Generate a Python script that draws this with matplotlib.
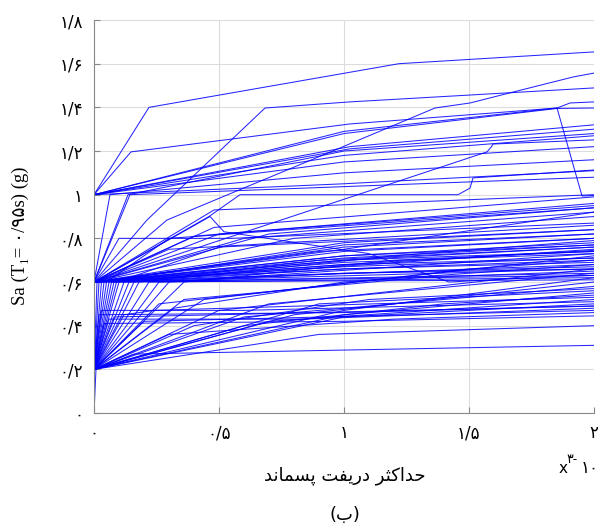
import matplotlib
matplotlib.use("Agg")
import matplotlib.pyplot as plt

# IDA-like curves: (residual drift x1e-3, Sa in g)
low_curves = [
    [(0, 0), (0.008, 0.2), (0.16, 0.27), (2.0, 0.31)],
    [(0, 0), (0, 0.2), (0.9, 0.36), (2.0, 0.40)],
    [(0, 0), (0, 0.2), (0.04, 0.41), (1.0, 0.42), (2.0, 0.445)],
    [(0, 0), (0, 0.2), (0.02, 0.45), (1.0, 0.46), (2.0, 0.49)],
    [(0, 0), (0, 0.2), (0.06, 0.43), (0.84, 0.43), (2.0, 0.48)],
    [(0, 0), (0, 0.2), (1.0, 0.44), (2.0, 0.50)],
    [(0, 0), (0, 0.2), (1.0, 0.45), (2.0, 0.55)],
    [(0, 0), (0, 0.2), (0.8, 0.45), (2.0, 0.60)],
    [(0, 0), (0, 0.2), (1.0, 0.47), (2.0, 0.62)],
    [(0, 0), (0, 0.2), (0.6, 0.44), (2.0, 0.58)],
    [(0, 0), (0, 0.2), (0.7, 0.50), (2.0, 0.64)],
    [(0, 0), (0, 0.2), (0.5, 0.47), (2.0, 0.66)],
    [(0, 0), (0, 0.2), (0.44, 0.52), (1.5, 0.66), (2.0, 0.70)],
    [(0, 0), (0, 0.2), (0.32, 0.48), (1.0, 0.60), (2.0, 0.68)],
    [(0, 0), (0, 0.2), (0.26, 0.50), (2.0, 0.72)],
    [(0, 0), (0, 0.2), (0.12, 0.45), (0.24, 0.47), (2.0, 0.53)],
    [(0, 0), (0, 0.2), (0.2, 0.42), (2.0, 0.47)],
    [(0, 0), (0, 0.2), (0.3, 0.36), (1.2, 0.43), (2.0, 0.46)],
    [(0, 0), (0, 0.2), (0.6, 0.40), (1.4, 0.50), (2.0, 0.54)],
    [(0, 0), (0, 0.2), (0.4, 0.40), (1.1, 0.52), (2.0, 0.57)],
    [(0, 0), (0, 0.2), (0.7, 0.42), (2.0, 0.52)],
    [(0, 0), (0, 0.2), (0.03, 0.47), (0.6, 0.47), (2.0, 0.51)],
    [(0, 0), (0, 0.2), (0.08, 0.44), (0.5, 0.45), (2.0, 0.49)],
    [(0, 0), (0, 0.2), (0.36, 0.52), (1.3, 0.62), (2.0, 0.65)],
    [(0, 0), (0, 0.2), (0.9, 0.50), (2.0, 0.56)],
]

steep_curves = [
    [(0, 0), (0, 0.2), (0.02, 0.6), (1.0, 0.72), (2.0, 0.77)],
    [(0, 0), (0, 0.2), (0.04, 0.6), (1.0, 0.77), (2.0, 0.82)],
    [(0, 0), (0, 0.2), (0.06, 0.6), (2.0, 0.75)],
    [(0, 0), (0, 0.2), (0.08, 0.6), (2.0, 0.68)],
    [(0, 0), (0, 0.2), (0.1, 0.6), (2.0, 0.66)],
    [(0, 0), (0, 0.2), (0.14, 0.6), (2.0, 0.64)],
    [(0, 0), (0, 0.2), (0.22, 0.6), (2.0, 0.62)],
    [(0, 0), (0, 0.2), (0.3, 0.6), (2.0, 0.73)],
    [(0, 0), (0, 0.2), (0.18, 0.6), (1.2, 0.72), (2.0, 0.79)],
    [(0, 0), (0, 0.2), (0.05, 0.6), (0.3, 0.8), (2.0, 0.94)],
    [(0, 0), (0, 0.2), (0.012, 0.6), (0.9, 0.74), (2.0, 0.80)],
    [(0, 0), (0, 0.2), (0.03, 0.6), (1.0, 0.70), (2.0, 0.74)],
    [(0, 0), (0, 0.2), (0.07, 0.6), (1.0, 0.68), (2.0, 0.71)],
    [(0, 0), (0, 0.2), (0.12, 0.6), (1.0, 0.66), (2.0, 0.69)],
    [(0, 0), (0, 0.2), (0.16, 0.6), (0.9, 0.70), (2.0, 0.76)],
    [(0, 0), (0, 0.2), (0.26, 0.6), (1.0, 0.64), (2.0, 0.66)],
    [(0, 0), (0, 0.2), (0.36, 0.6), (1.2, 0.70), (2.0, 0.74)],
    [(0, 0), (0, 0.2), (0.09, 0.6), (0.5, 0.76), (2.0, 0.84)],
]

mid_curves = [
    [(0, 0), (0, 0.2), (0, 0.6), (2.0, 0.61)],
    [(0, 0), (0, 0.2), (0, 0.6), (2.0, 0.63)],
    [(0, 0), (0, 0.2), (0, 0.6), (1.0, 0.64), (2.0, 0.67)],
    [(0, 0), (0, 0.2), (0, 0.6), (1.0, 0.66), (2.0, 0.70)],
    [(0, 0), (0, 0.2), (0, 0.6), (1.0, 0.67), (2.0, 0.71)],
    [(0, 0), (0, 0.2), (0, 0.6), (1.0, 0.69), (2.0, 0.73)],
    [(0, 0), (0, 0.2), (0, 0.6), (1.0, 0.70), (2.0, 0.76)],
    [(0, 0), (0, 0.2), (0, 0.6), (1.0, 0.72), (2.0, 0.78)],
    [(0, 0), (0, 0.2), (0, 0.6), (1.0, 0.74), (2.0, 0.80)],
    [(0, 0), (0, 0.2), (0, 0.6), (1.0, 0.76), (2.0, 0.82)],
    [(0, 0), (0, 0.2), (0, 0.6), (1.0, 0.78), (2.0, 0.84)],
    [(0, 0), (0, 0.2), (0, 0.6), (0.8, 0.80), (2.0, 0.90)],
    [(0, 0), (0, 0.2), (0, 0.6), (0.6, 0.80), (2.0, 0.92)],
    [(0, 0), (0, 0.2), (0, 0.6), (0.5, 0.82), (2.0, 0.95)],
    [(0, 0), (0, 0.2), (0, 0.6), (0.4, 0.81), (2.0, 0.96)],
    [(0, 0), (0, 0.2), (0, 0.6), (0.1, 0.8), (0.55, 0.8), (2.0, 0.87)],
    [(0, 0), (0, 0.2), (0, 0.6), (1.572, 1.196), (1.59, 1.22), (1.596, 1.232), (2.0, 1.251)],
    [(0, 0), (0, 0.2), (0, 0.6), (0.46, 0.9), (0.584, 1.0), (1.456, 1.0), (1.504, 1.03), (1.516, 1.077), (2.0, 1.113)],
    [(0, 0), (0, 0.2), (0, 0.6), (0.464, 0.9), (0.52, 0.83), (1.1, 0.73), (1.42, 0.60), (1.84, 0.625), (2.0, 0.63)],
    [(0, 0), (0, 0.2), (0, 0.6), (0.212, 0.884), (0.684, 1.397), (1.024, 1.425), (2.0, 1.489)],
    [(0, 0), (0, 0.2), (0, 0.6), (0.292, 0.884), (0.984, 1.214), (1.364, 1.397), (1.504, 1.42), (1.676, 1.47), (1.916, 1.539), (2.0, 1.557)],
    [(0, 0), (0, 0.2), (0, 0.6), (0.144, 1.0), (2.0, 1.08)],
    [(0, 0), (0, 0.2), (0, 0.6), (0.064, 1.0), (1.0, 1.1), (2.0, 1.16)],
    [(0, 0), (0, 0.2), (0, 0.6), (0.48, 0.85), (2.0, 0.99)],
    [(0, 0), (0, 0.2), (0, 0.6), (0.48, 0.93), (2.0, 1.0)],
    [(0, 0), (0, 0.2), (0, 0.6), (0.3, 0.75), (2.0, 0.86)],
    [(0, 0), (0, 0.2), (0, 0.6), (1.0, 0.75), (2.0, 0.92)],
    [(0, 0), (0, 0.2), (0, 0.6), (0.7, 0.82), (2.0, 0.94)],
    [(0, 0), (0, 0.2), (0, 0.6), (1.0, 0.71), (2.0, 0.77)],
    [(0, 0), (0, 0.2), (0, 0.6), (1.0, 0.68), (2.0, 0.745)],
]

high_curves = [
    [(0, 0), (0, 0.2), (0, 0.6), (0, 1.0), (0.22, 1.4), (1.22, 1.6), (2.0, 1.654)],
    [(0, 0), (0, 0.2), (0, 0.6), (0, 1.0), (0.148, 1.196), (1.024, 1.324), (1.852, 1.397), (1.904, 1.42), (2.0, 1.425)],
    [(0, 0), (0, 0.2), (0, 0.6), (0, 1.0), (1.0, 1.28), (1.852, 1.395), (2.0, 1.397)],
    [(0, 0), (0, 0.2), (0, 0.6), (0, 1.0), (1.0, 1.29), (1.852, 1.397), (1.952, 0.994), (2.0, 0.996)],
    [(0, 0), (0, 0.2), (0, 0.6), (0, 1.0), (1.024, 1.22), (2.0, 1.32)],
    [(0, 0), (0, 0.2), (0, 0.6), (0, 1.0), (1.024, 1.21), (2.0, 1.30)],
    [(0, 0), (0, 0.2), (0, 0.6), (0, 1.0), (1.0, 1.18), (2.0, 1.27)],
    [(0, 0), (0, 0.2), (0, 0.6), (0, 1.0), (1.0, 1.15), (2.0, 1.22)],
    [(0, 0), (0, 0.2), (0, 0.6), (0.136, 1.0), (1.0, 1.2), (2.0, 1.28)],
    [(0, 0), (0, 0.2), (0, 0.6), (0, 1.0), (1.0, 1.05), (2.0, 1.11)],
]

x_ticks = [0, 0.5, 1, 1.5, 2]
x_tick_labels = ["۰", "۰/۵", "۱", "۱/۵", "۲"]
y_ticks = [0, 0.2, 0.4, 0.6, 0.8, 1.0, 1.2, 1.4, 1.6, 1.8]
y_tick_labels = ["۰", "۰/۲", "۰/۴", "۰/۶", "۰/۸", "۱", "۱/۲", "۱/۴", "۱/۶", "۱/۸"]

x_title = "حداکثر دریفت پسماند"
sub_title = "(ب)"

# presentation forms: isolated, final, initial, medial
forms = {
    "ح": ("\ufea1", "\ufea2", "\ufea3", "\ufea4"),
    "د": ("\ufea9", "\ufeaa", None, None),
    "ا": ("\ufe8d", "\ufe8e", None, None),
    "ک": ("\ufb8e", "\ufb8f", "\ufb90", "\ufb91"),
    "ث": ("\ufe99", "\ufe9a", "\ufe9b", "\ufe9c"),
    "ر": ("\ufead", "\ufeae", None, None),
    "ی": ("\ufbfc", "\ufbfd", "\ufbfe", "\ufbff"),
    "ف": ("\ufed1", "\ufed2", "\ufed3", "\ufed4"),
    "ت": ("\ufe95", "\ufe96", "\ufe97", "\ufe98"),
    "پ": ("\ufb56", "\ufb57", "\ufb58", "\ufb59"),
    "س": ("\ufeb1", "\ufeb2", "\ufeb3", "\ufeb4"),
    "م": ("\ufee1", "\ufee2", "\ufee3", "\ufee4"),
    "ن": ("\ufee5", "\ufee6", "\ufee7", "\ufee8"),
    "ب": ("\ufe8f", "\ufe90", "\ufe91", "\ufe92"),
}


def shape(text):
    out = []
    for i, ch in enumerate(text):
        f = forms.get(ch)
        if f is None:
            out.append(ch)
            continue
        prev = text[i - 1] if i > 0 else ""
        nxt = text[i + 1] if i + 1 < len(text) else ""
        jp = prev in forms and forms[prev][2] is not None
        jn = f[2] is not None and nxt in forms
        if jp and jn:
            out.append(f[3])
        elif jp:
            out.append(f[1])
        elif jn:
            out.append(f[2])
        else:
            out.append(f[0])
    mirror = {"(": ")", ")": "("}
    return "".join(mirror.get(c, c) for c in reversed(out))


fig = plt.figure(figsize=(6.08, 5.31), dpi=100)
ax = fig.add_axes([0.1546, 0.2222, 0.8224, 0.7401])

for group in (low_curves, steep_curves, mid_curves, high_curves):
    for c in group:
        xs = [p[0] for p in c]
        ys = [p[1] for p in c]
        ax.plot(xs, ys, color="#0000ff", lw=0.75, alpha=0.85)

ax.set_xlim(0, 2)
ax.set_ylim(0, 1.8)
ax.set_xticks(x_ticks)
ax.set_xticklabels(x_tick_labels, fontsize=12, family="DejaVu Sans")
ax.set_yticks(y_ticks)
ax.set_yticklabels(y_tick_labels, fontsize=12, family="DejaVu Sans")
ax.grid(True, color="#dcdcdc", lw=0.8)
ax.set_axisbelow(True)
for s in ("top", "right"):
    ax.spines[s].set_visible(False)
for s in ("left", "bottom"):
    ax.spines[s].set_color("#888888")
ax.tick_params(direction="in", length=4, color="#888888", pad=8)

ax.set_ylabel("Sa (T₁= ۰/۹۵s) (g)", fontsize=13.5, family=["Liberation Serif", "DejaVu Sans"])
ax.yaxis.set_label_coords(-0.13, 0.45)

fig.text(0.567, 0.105, shape(x_title), fontsize=13, ha="center", va="center", family="DejaVu Sans")
fig.text(0.567, 0.030, shape(sub_title), fontsize=13, ha="center", va="center", family="DejaVu Sans")
fig.text(0.918, 0.118, "x", fontsize=11, ha="left", va="center")
fig.text(0.932, 0.135, "۳-", fontsize=9, ha="left", va="center", family="DejaVu Sans")
fig.text(0.955, 0.118, "۱۰", fontsize=12, ha="left", va="center", family="DejaVu Sans")

fig.savefig("out.png", dpi=100)
